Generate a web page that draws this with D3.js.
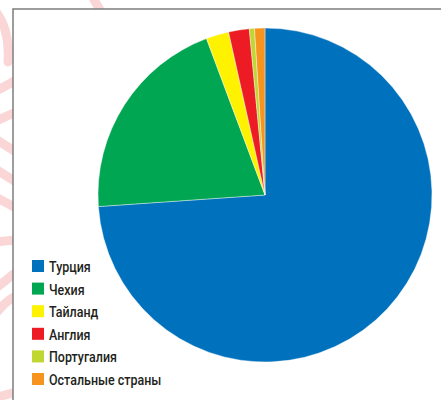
<!DOCTYPE html>
<html>
<head>
<meta charset="utf-8">
<script src="https://cdn.jsdelivr.net/npm/d3@7"></script>
<style>
  html, body { margin: 0; padding: 0; background: #fff; }
  svg { display: block; }
  .legend text { font-family: Roboto, "DejaVu Sans Condensed", sans-serif; font-size: 14.5px; font-weight: 500; fill: #231f20; }
</style>
</head>
<body>
<svg class="chart"></svg>
<script>
const countries = ['Турция', 'Чехия', 'Тайланд', 'Англия', 'Португалия', 'Остальные страны'];
const shares = [73.9, 20.4, 2.2, 2.0, 0.5, 1.0];
const sliceColors = ['#0071bc', '#00a651', '#fff200', '#ed1c24', '#bfd730', '#f7941d'];

// pink decoration strokes peeking in at the left margin
const decoStrokes = [
  'M -4 12 Q 10 30 8 62',
  'M -6 92 Q 6 86 16 80',
  'M -6 122 L 16 112',
  'M -6 138 L 16 152',
  'M -6 168 L 16 182',
  'M -6 196 L 16 208',
  'M -6 242 L 16 240',
  'M -6 290 Q 6 280 16 272',
  'M -6 316 Q 6 300 16 296',
  'M -6 398 L 16 392',
  'M 92 -4 L 100 10',
];

const startApp = () => {
  const viewBox = { width: 441, height: 400 };
  const frame = { left: 13, top: 9 };
  const pie = { cx: 265, cy: 195, r: 167 };
  const legend = { x: 32, y: 260, box: 12, step: 22.6 };

  const svg = d3.select('.chart')
    .attr('width', viewBox.width)
    .attr('height', viewBox.height);

  svg.append('clipPath').attr('id', 'deco-clip')
    .append('rect').attr('x', 0).attr('y', 0).attr('width', frame.left).attr('height', viewBox.height);
  svg.append('clipPath').attr('id', 'deco-clip-top')
    .append('rect').attr('x', 0).attr('y', 0).attr('width', viewBox.width).attr('height', frame.top);

  const deco = svg.append('g').attr('fill', 'none').attr('stroke', '#fad6d6')
    .attr('stroke-width', 9).attr('stroke-linecap', 'round');
  deco.selectAll('path')
    .data(decoStrokes)
    .enter()
    .append('path')
    .attr('d', d => d)
    .attr('clip-path', (d, i) => (i === decoStrokes.length - 1 ? 'url(#deco-clip-top)' : 'url(#deco-clip)'));

  svg.append('path')
    .attr('d', `M ${frame.left} ${viewBox.height} V ${frame.top} H ${viewBox.width}`)
    .attr('fill', 'none')
    .attr('stroke', '#7d7d7d')
    .attr('stroke-width', 1.5);

  const color = d3.scaleOrdinal().domain(countries).range(sliceColors);
  const pieLayout = d3.pie().sort(null).value(d => d.value);
  const arc = d3.arc().innerRadius(0).outerRadius(pie.r);
  const data = countries.map((name, i) => ({ name, value: shares[i] }));

  svg.append('g')
    .attr('transform', `translate(${pie.cx}, ${pie.cy})`)
    .selectAll('path')
    .data(pieLayout(data))
    .enter()
    .append('path')
    .attr('d', arc)
    .attr('fill', d => color(d.data.name))
    .attr('stroke', '#fff')
    .attr('stroke-width', 0.4);

  const rows = svg.append('g').classed('legend', true)
    .selectAll('g')
    .data(countries)
    .enter()
    .append('g')
    .attr('transform', (d, i) => `translate(${legend.x}, ${legend.y + i * legend.step})`);

  rows.append('rect')
    .attr('width', legend.box)
    .attr('height', legend.box)
    .attr('fill', d => color(d));

  // condensed look: squeeze the label horizontally
  rows.append('text')
    .attr('transform', 'translate(17, 12) scale(0.86, 1)')
    .text(d => d);
};

window.onload = startApp;
</script>
</body>
</html>
